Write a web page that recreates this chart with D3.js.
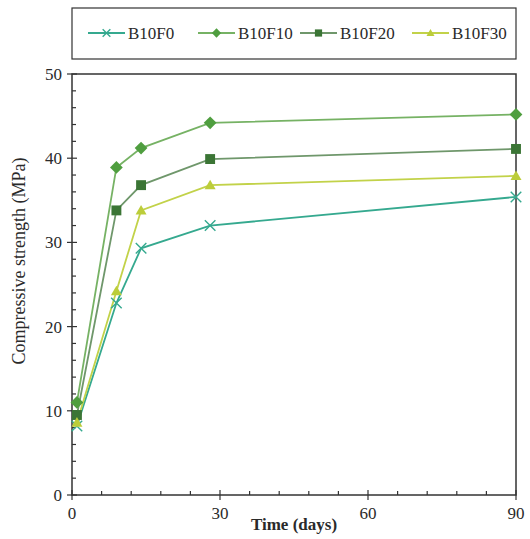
<!DOCTYPE html>
<html>
<head>
<meta charset="utf-8">
<script src="https://cdn.jsdelivr.net/npm/d3@7"></script>
<style>
  html, body { margin: 0; padding: 0; background: #fff; }
  svg { display: block; }
</style>
</head>
<body>
<svg id="chart" width="530" height="539"></svg>
<script>
// Curing ages (days)
const days = [1, 9, 14, 28, 90];
// Compressive strength (MPa) per mix
const seriesNames = ["B10F0", "B10F10", "B10F20", "B10F30"];
const b10f0  = [8.2, 22.8, 29.3, 32.0, 35.4];
const b10f10 = [11.0, 38.9, 41.2, 44.2, 45.2];
const b10f20 = [9.5, 33.8, 36.8, 39.9, 41.1];
const b10f30 = [8.6, 24.2, 33.8, 36.8, 37.9];
const xTicks = [0, 30, 60, 90];
const yTicks = [0, 10, 20, 30, 40, 50];

const lineColors   = ["#35a98f", "#76b264", "#6f976b", "#c2d249"];
const markerColors = ["#35a98f", "#4f9e3f", "#3b7535", "#bccd3a"];
const markerTypes  = ["cross", "diamond", "square", "triangle"];

(function () {
const FONT = "Liberation Serif";
const svg = d3.select("#chart");
const pLeft = 72, pRight = 516, pTop = 74, pBottom = 495;

const x = d3.scaleLinear().domain([0, 90]).range([pLeft, pRight]);
const y = d3.scaleLinear().domain([0, 50]).range([pBottom, pTop]);

const data = [b10f0, b10f10, b10f20, b10f30].map((vals, i) => ({
  name: seriesNames[i],
  points: days.map((d, j) => ({ d, v: vals[j] })),
  line: lineColors[i], mark: markerColors[i], type: markerTypes[i]
}));

function label(g) {
  return g.append("text").attr("font-family", FONT).attr("fill", "#2a2a2a");
}

// frame
svg.append("rect").attr("x", pLeft).attr("y", pTop)
  .attr("width", pRight - pLeft).attr("height", pBottom - pTop)
  .attr("fill", "none").attr("stroke", "#333").attr("stroke-width", 1.5);

// ticks: majors cross the axis line, minors point inward
const minorX = d3.range(0, 91, 6).filter(v => v % 30 !== 0);
const minorY = d3.range(0, 51, 2).filter(v => v % 10 !== 0);
const axes = svg.append("g").attr("stroke", "#333").attr("stroke-width", 1.2);
xTicks.forEach(v => axes.append("line").attr("x1", x(v)).attr("x2", x(v)).attr("y1", pBottom - 5).attr("y2", pBottom + 5));
minorX.forEach(v => axes.append("line").attr("x1", x(v)).attr("x2", x(v)).attr("y1", pBottom - 4).attr("y2", pBottom));
yTicks.forEach(v => axes.append("line").attr("y1", y(v)).attr("y2", y(v)).attr("x1", pLeft - 5).attr("x2", pLeft + 5));
minorY.forEach(v => axes.append("line").attr("y1", y(v)).attr("y2", y(v)).attr("x1", pLeft).attr("x2", pLeft + 4));

const xl = svg.append("g");
xTicks.forEach(v => label(xl).attr("x", x(v)).attr("y", pBottom + 24)
  .attr("text-anchor", "middle").attr("font-size", 17).text(v));
const yl = svg.append("g");
yTicks.forEach(v => label(yl).attr("x", pLeft - 10).attr("y", y(v) + 6)
  .attr("text-anchor", "end").attr("font-size", 17).text(v));

// axis titles
label(svg).attr("x", 294).attr("y", 530)
  .attr("text-anchor", "middle").attr("font-size", 17).attr("font-weight", "bold")
  .text("Time (days)");
label(svg).attr("transform", "translate(25,261) rotate(-90)")
  .attr("text-anchor", "middle").attr("font-size", 18)
  .text("Compressive strength (MPa)");

// marker drawing
function drawMarker(g, type, color, cx, cy, s) {
  if (type === "cross") {
    const r = s * 0.48;
    g.append("path").attr("d", `M${cx - r},${cy - r}L${cx + r},${cy + r}M${cx - r},${cy + r}L${cx + r},${cy - r}`)
      .attr("stroke", color).attr("stroke-width", 1.4).attr("fill", "none");
  } else if (type === "diamond") {
    const r = s * 0.58;
    g.append("path").attr("d", `M${cx},${cy - r}L${cx + r},${cy}L${cx},${cy + r}L${cx - r},${cy}Z`).attr("fill", color);
  } else if (type === "square") {
    const r = s * 0.45;
    g.append("rect").attr("x", cx - r).attr("y", cy - r).attr("width", 2 * r).attr("height", 2 * r).attr("fill", color);
  } else {
    const r = s * 0.5;
    g.append("path").attr("d", `M${cx},${cy - r}L${cx + r},${cy + r * 0.75}L${cx - r},${cy + r * 0.75}Z`).attr("fill", color);
  }
}

const line = d3.line().x(p => x(p.d)).y(p => y(p.v));
const plot = svg.append("g");
data.forEach(s => {
  plot.append("path").datum(s.points).attr("d", line)
    .attr("fill", "none").attr("stroke", s.line).attr("stroke-width", 1.8);
});
data.forEach(s => {
  const g = plot.append("g");
  s.points.forEach(p => drawMarker(g, s.type, s.mark, x(p.d), y(p.v), 11));
});

// legend
svg.append("rect").attr("x", 72).attr("y", 8).attr("width", 444).attr("height", 51)
  .attr("fill", "none").attr("stroke", "#333").attr("stroke-width", 1.2);
const legendX = [88, 198, 300, 412];
data.forEach((s, i) => {
  const g = svg.append("g");
  const x0 = legendX[i], yy = 33;
  g.append("line").attr("x1", x0).attr("x2", x0 + 37).attr("y1", yy).attr("y2", yy)
    .attr("stroke", s.line).attr("stroke-width", 1.8);
  drawMarker(g, s.type, s.mark, x0 + 18.5, yy, 8);
  label(g).attr("x", x0 + 40).attr("y", yy + 6).attr("font-size", 17).text(s.name);
});
})();
</script>
</body>
</html>
